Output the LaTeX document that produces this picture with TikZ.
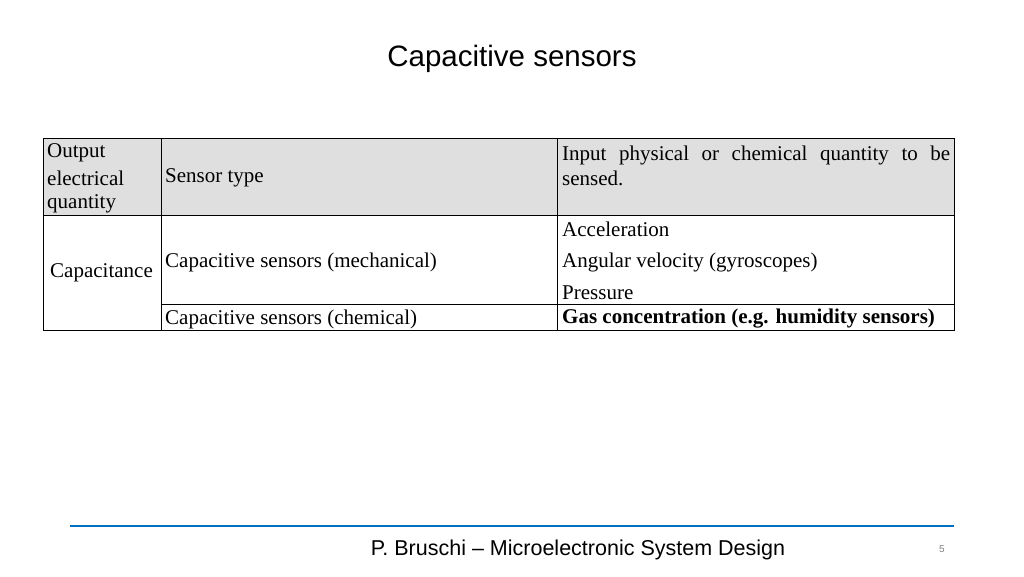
\documentclass[tikz,border=0pt]{standalone}
\usepackage{fontspec}
\setmainfont{Liberation Serif}
\newfontfamily\sans{Liberation Sans}
\begin{document}
\begin{tikzpicture}[x=1pt,y=-1pt,
  cell/.style={anchor=west,inner sep=0pt,font=\fontsize{21}{25}\selectfont},
  grid/.style={line width=0.8pt,black}]
\useasboundingbox (0,0) rectangle (1024,576);
\node[font=\sans\fontsize{29.5}{30}\selectfont] (title) at (512,59) {Capacitive sensors};
\fill[gray!25] (43,138) rectangle (954,215);
\draw[grid] (43,138) rectangle (954,330);
\draw[grid] (43,215) -- (954,215);
\draw[grid] (161,138) -- (161,330);
\draw[grid] (557,138) -- (557,330);
\draw[grid] (161,304) -- (954,304);
\node[cell] (h1a) at (47,153) {Output};
\node[cell] (h1b) at (47,178) {electrical};
\node[cell] (h1c) at (47,204) {quantity};
\node[cell] (h2) at (165,178) {Sensor type};
\node[cell,text width=388pt,align=justify] (h3) at (562,166) {Input physical or chemical quantity to be sensed.};
\node[cell] (cap) at (50,273) {Capacitance};
\node[cell] (mech) at (165,262) {Capacitive sensors (mechanical)};
\node[cell] (chem) at (165,319) {Capacitive sensors (chemical)};
\node[cell] (acc) at (562,229) {Acceleration};
\node[cell] (ang) at (562,262) {Angular velocity (gyroscopes)};
\node[cell] (pre) at (562,293) {Pressure};
\node[cell,font=\bfseries\fontsize{21}{25}\selectfont] (gas) at (562,319) {Gas concentration (e.g. humidity sensors)};
\draw[line width=2.2pt,color={rgb,255:red,0;green,112;blue,192}] (70,526) -- (954,526);
\node[font=\sans\fontsize{21.5}{22}\selectfont] (foot) at (578,550) {P. Bruschi – Microelectronic System Design};
\node[font=\sans\fontsize{10}{10}\selectfont,text=gray] (num) at (942,549) {5};
\end{tikzpicture}
\end{document}
